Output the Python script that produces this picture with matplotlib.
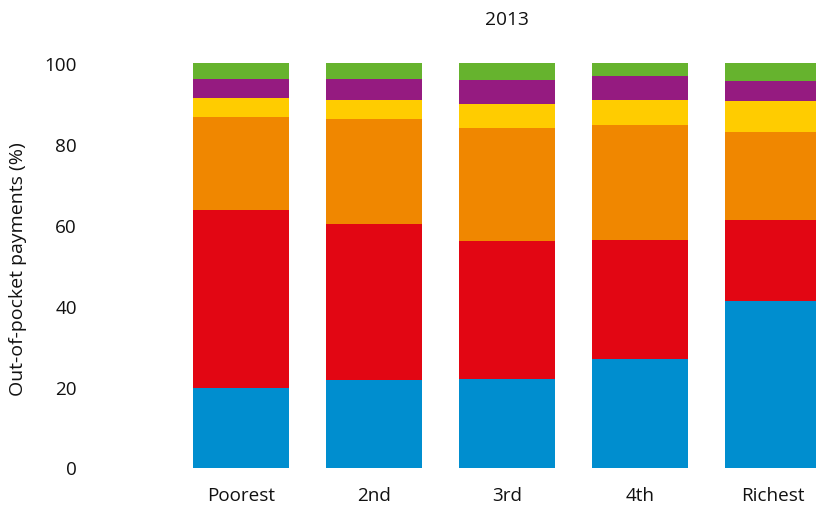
import numpy as np
import matplotlib
matplotlib.use("Agg")
import matplotlib.pyplot as plt

plt.rcParams['font.family'] = ['Open Sans', 'DejaVu Sans']

groups = ["Poorest", "2nd", "3rd", "4th", "Richest"]
blue = [19.7, 21.6, 21.9, 26.8, 41.2]
red = [44.0, 38.6, 34.1, 29.4, 20.0]
orange = [22.9, 26.0, 27.9, 28.5, 21.7]
yellow = [4.7, 4.7, 6.0, 6.2, 7.7]
purple = [4.7, 5.1, 5.9, 5.9, 4.9]
green = [4.0, 4.0, 4.2, 3.2, 4.5]

series = [blue, red, orange, yellow, purple, green]
colors = ["#008ECF", "#E20613", "#F08700", "#FFCC00", "#951B80", "#66B32E"]

fig = plt.figure(figsize=(8.16, 5.06), dpi=100)
ax = fig.add_axes([90/816, (506-468.5)/506, 1 - 90/816, (468.5-64)/506])

x = np.arange(len(groups))
bottom = np.zeros(len(groups))
for vals, c in zip(series, colors):
    ax.bar(x, vals, width=0.722, bottom=bottom, color=c, linewidth=0)
    bottom += np.array(vals)

ax.set_xlim(-1.135, 4.323)
ax.set_ylim(0, 100)
ax.set_yticks([0, 20, 40, 60, 80, 100])
ax.set_xticks(x)
ax.set_xticklabels(groups)
ax.tick_params(axis='both', length=0, labelsize=13.6, colors='#111111')
ax.tick_params(axis='y', pad=9.5)
ax.tick_params(axis='x', pad=13)
for s in ax.spines.values():
    s.set_visible(False)

fig.text(18/816, (506-269)/506, "Out-of-pocket payments (%)", rotation=90,
         ha='center', va='center', fontsize=14, color='#111111')
fig.text(507/816, 1 - 20/506, "2013", ha='center', va='center',
         fontsize=13.8, color='#111111')

fig.savefig("out.png", dpi=100)
